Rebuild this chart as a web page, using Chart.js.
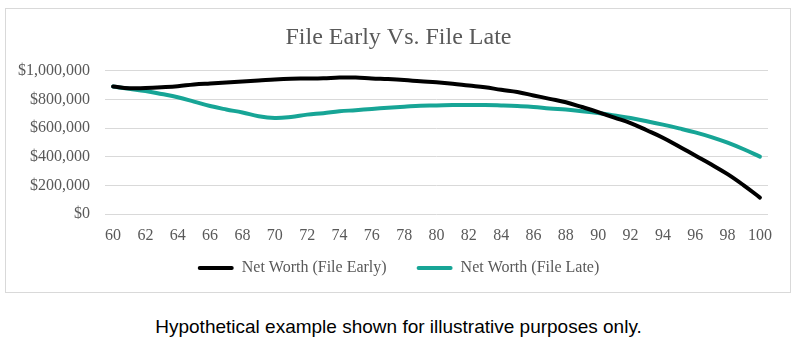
<!DOCTYPE html>
<html>
<head>
<meta charset="utf-8">
<script src="https://cdn.jsdelivr.net/npm/chart.js@4/dist/chart.umd.min.js"></script>
<style>
  html, body { margin: 0; padding: 0; background: #ffffff; }
  body { width: 797px; height: 343px; position: relative; overflow: hidden; }
  #frame {
    position: absolute; left: 5px; top: 8px; width: 784px; height: 283px;
    border: 1px solid #d9d9d9; box-sizing: content-box;
  }
  #wrap { position: absolute; left: 0; top: 0; width: 797px; height: 286px; }
  #note {
    position: absolute; left: 0; width: 797px; top: 316px;
    text-align: center; font-family: "Liberation Sans", Arial, sans-serif;
    font-size: 19px; color: #000000; line-height: 22px;
  }
</style>
</head>
<body>
<div id="frame"></div>
<div id="wrap"><canvas id="chart" width="797" height="286"></canvas></div>
<div id="note">Hypothetical example shown for illustrative purposes only.</div>
<script>
// Age at each year of the projection
const ages = [];
for (let a = 60; a <= 100; a++) ages.push(String(a));

// Projected net worth when filing early
const fileEarly = [
  890000, 878000, 880000, 885000, 892000, 905000, 912000, 918000, 925000, 932000,
  940000, 945000, 946000, 948000, 953000, 953000, 946000, 942000, 936000, 927000,
  920000, 910000, 897000, 885000, 867000, 852000, 828000, 804000, 780000, 747000,
  712000, 673000, 635000, 585000, 533000, 472000, 408000, 345000, 278000, 200000,
  115000
];

// Projected net worth when filing late
const fileLate = [
  890000, 874000, 859000, 838000, 815000, 785000, 754000, 730000, 709000, 683000,
  671000, 678000, 694000, 704000, 717000, 725000, 734000, 742000, 749000, 756000,
  758000, 761000, 761000, 761000, 758000, 754000, 748000, 737000, 729000, 718000,
  705000, 688000, 670000, 648000, 624000, 598000, 570000, 537000, 498000, 452000,
  401000
];

const seriesNames = ["Net Worth (File Early)", "Net Worth (File Late)"];
const yTicks = [0, 200000, 400000, 600000, 800000, 1000000];

const textGrey = "#595959";
const serif = "'Liberation Serif', 'Times New Roman', serif";

// Centre the title and legend over the framed area rather than the full canvas
const centreBlocks = {
  id: "centreBlocks",
  beforeDraw(chart) {
    if (chart.legend) chart.legend.left = 29;
    if (chart.titleBlock) chart.titleBlock.left = 29;
  }
};

new Chart(document.getElementById("chart"), {
  type: "line",
  data: {
    labels: ages,
    datasets: [
      {
        label: seriesNames[0],
        data: fileEarly,
        borderColor: "#000000",
        backgroundColor: "#000000",
        borderWidth: 4,
        pointRadius: 0,
        tension: 0.4,
        borderCapStyle: "round",
        fill: false
      },
      {
        label: seriesNames[1],
        data: fileLate,
        borderColor: "#17a596",
        backgroundColor: "#17a596",
        borderWidth: 4,
        pointRadius: 0,
        tension: 0.4,
        borderCapStyle: "round",
        fill: false
      }
    ]
  },
  plugins: [centreBlocks],
  options: {
    responsive: false,
    animation: false,
    layout: { padding: { left: 0, right: 29, top: 0, bottom: 0 } },
    plugins: {
      tooltip: { enabled: false },
      title: {
        display: true,
        text: "File Early Vs. File Late",
        color: textGrey,
        font: { family: serif, size: 24, weight: "normal" },
        padding: { top: 23, bottom: 19 }
      },
      legend: {
        position: "bottom",
        labels: {
          color: textGrey,
          font: { family: serif, size: 16 },
          boxWidth: 36,
          boxHeight: 4,
          padding: 10,
          generateLabels: (chart) => chart.data.datasets.map((ds, i) => ({
            // trailing spaces widen the gap between the two entries
            text: i === 0 ? ds.label + "     " : ds.label,
            fillStyle: ds.borderColor,
            strokeStyle: ds.borderColor,
            lineWidth: 0,
            fontColor: textGrey,
            hidden: false,
            datasetIndex: i,
            borderRadius: 2
          }))
        }
      }
    },
    scales: {
      x: {
        type: "category",
        offset: true,
        grid: { display: false, drawTicks: false },
        border: { display: false },
        ticks: {
          autoSkip: false,
          maxRotation: 0,
          color: textGrey,
          padding: 12,
          font: { family: serif, size: 16 },
          callback: function (value) {
            const lab = this.getLabelForValue(value);
            return Number(lab) % 2 === 0 ? lab : "";
          }
        },
        afterFit: (scale) => { scale.height = 36; }
      },
      y: {
        min: 0,
        max: 1000000,
        afterBuildTicks: (scale) => { scale.ticks = yTicks.map(v => ({ value: v })); },
        grid: { color: "#d9d9d9", lineWidth: 1, drawTicks: false },
        border: { display: false },
        ticks: {
          color: textGrey,
          padding: 15,
          font: { family: serif, size: 16 },
          callback: (v) => "$" + Number(v).toLocaleString("en-US")
        },
        afterFit: (scale) => { scale.width = 105; }
      }
    }
  }
});
</script>
</body>
</html>
